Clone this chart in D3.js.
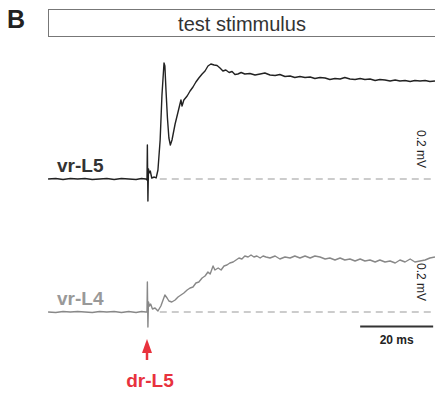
<!DOCTYPE html>
<html>
<head>
<meta charset="utf-8">
<script src="https://cdn.jsdelivr.net/npm/d3@7"></script>
<style>
  body { margin: 0; background: #fff; }
  svg { font-family: "Liberation Sans", Arial, sans-serif; }
</style>
</head>
<body>
<div id="fig"></div>
<script>
// recordings: [time after dr-L5 stimulus (ms), potential (mV)]
const vrL5 = [
  [-27.1,0],[-25,0.001],[-23,-0.001],[-21,0.001],[-19,0],[-17,0.001],[-15,-0.001],[-13,0],
  [-11,0.001],[-9,-0.001],[-7,0.001],[-5,0],[-3,-0.001],[-1.5,0.001],[-0.3,0],
  [0,-0.002],[0.1,0.068],[0.25,-0.044],[0.4,0.020],[0.6,0.012],[0.9,0.016],[1.3,0.002],[2.0,0.004],
  [2.5,0.002],[3.0,0.018],[3.6,0.078],[4.1,0.168],[4.66,0.232],[4.9,0.226],[5.2,0.178],[5.6,0.122],
  [6.0,0.082],[6.4,0.068],[6.85,0.078],[7.7,0.110],[8.5,0.134],[9.3,0.158],[9.6,0.146],[10.1,0.158],
  [11.0,0.166],[11.8,0.176],[12.6,0.184],[13.4,0.194],[14.2,0.202],[15.1,0.210],[15.9,0.216],[16.7,0.226],
  [17.5,0.230],[18.4,0.228],[19.2,0.227],[20.0,0.222],[20.8,0.216],[21.6,0.218],[22.5,0.213],[23.3,0.215],
  [24.1,0.209],[24.9,0.210],[25.8,0.213],[26.8,0.210],[28.2,0.211],[29.6,0.208],[31.0,0.210],[32.3,0.212],
  [33.7,0.208],[35.1,0.207],[36.4,0.209],[37.8,0.205],[39.2,0.206],[40.5,0.203],[41.9,0.205],[43.3,0.203],
  [44.7,0.204],[46.0,0.201],[47.4,0.203],[48.8,0.202],[50.1,0.199],[51.5,0.201],[52.9,0.200],[54.2,0.203],
  [55.6,0.200],[57.0,0.199],[58.4,0.201],[59.7,0.199],[61.1,0.200],[62.5,0.197],[63.8,0.199],[65.2,0.198],
  [66.6,0.196],[68.0,0.198],[69.3,0.196],[70.7,0.197],[72.1,0.195],[73.4,0.197],[74.8,0.196],[76.2,0.197],
  [77.5,0.195],[78.9,0.196]
];

const vrL4 = [
  [-27.1,0],[-25,-0.001],[-23,0.001],[-21,0],[-19,0.001],[-17,0],[-15,-0.001],[-13,0.001],
  [-11,0],[-9,0.001],[-7,-0.001],[-5,0.001],[-3,-0.001],[-1.5,0.001],[-0.3,0],
  [0,0],[0.1,0.060],[0.25,-0.030],[0.4,0.020],[0.7,0.012],[1.0,0.016],[1.5,0.006],[2.2,0.008],
  [3.0,0.002],[3.8,0.012],[4.4,0.024],[4.9,0.034],[5.5,0.028],[6.0,0.022],[6.8,0.020],[7.7,0.024],
  [8.5,0.030],[9.3,0.034],[10.1,0.038],[11.0,0.044],[11.8,0.048],[12.6,0.050],[13.4,0.058],[14.2,0.060],
  [15.1,0.068],[15.9,0.072],[16.7,0.080],[17.3,0.076],[18.1,0.092],[18.6,0.084],[19.5,0.088],[20.3,0.084],
  [21.1,0.092],[21.9,0.094],[22.7,0.098],[23.6,0.100],[24.4,0.104],[25.2,0.108],[26.0,0.106],[26.8,0.112],
  [27.7,0.110],[28.5,0.114],[29.3,0.110],[30.1,0.112],[31.0,0.108],[31.8,0.112],[32.6,0.110],[33.7,0.108],
  [35.1,0.112],[36.4,0.106],[37.8,0.110],[39.2,0.108],[40.5,0.112],[41.9,0.108],[43.3,0.112],[44.7,0.108],
  [46.0,0.112],[47.4,0.110],[48.8,0.106],[50.1,0.108],[51.5,0.104],[52.9,0.108],[54.2,0.104],[55.6,0.106],
  [57.0,0.102],[58.4,0.106],[59.7,0.102],[61.1,0.104],[62.5,0.100],[63.8,0.104],[65.2,0.100],[66.6,0.102],
  [68.0,0.098],[69.3,0.104],[70.7,0.100],[72.1,0.106],[73.4,0.100],[74.8,0.102],[76.2,0.104],[77.5,0.108],
  [78.9,0.110]
];

const timeBar = [58.4, 78.4];   // 20 ms scale bar
const voltBar = 0.2;            // mV
const dashStart = 3.5;          // ms, baseline reference line

const width = 435, height = 396;

const svg = d3.select('#fig').append('svg')
    .attr('width', width)
    .attr('height', height);

// shared time axis, one voltage scale per root
const x = d3.scaleLinear().domain([0, 20]).range([147, 220]);
const yL5 = d3.scaleLinear().domain([0, voltBar]).range([179, 79]);
const yL4 = d3.scaleLinear().domain([0, voltBar]).range([312, 212]);
const tEnd = d3.max(vrL5, d => d[0]);

// panel letter + stimulus box
svg.append('text')
    .attr('x', 7).attr('y', 28)
    .attr('font-size', 25).attr('font-weight', 'bold')
    .attr('fill', '#222')
    .text('B');

svg.append('rect')
    .attr('x', 48.5).attr('y', 9.5)
    .attr('width', 400).attr('height', 27)
    .attr('fill', 'none').attr('stroke', '#777').attr('stroke-width', 1);

svg.append('text')
    .attr('x', 242).attr('y', 31)
    .attr('text-anchor', 'middle')
    .attr('font-size', 20).attr('fill', '#333')
    .text('test stimmulus');

const traces = [
  {name: 'vr-L5', data: vrL5, y: yL5, color: '#222', label: '#333'},
  {name: 'vr-L4', data: vrL4, y: yL4, color: '#888', label: '#999'}
];

traces.forEach(tr => {
  // dashed baseline
  svg.append('line')
      .attr('x1', x(dashStart)).attr('x2', x(tEnd))
      .attr('y1', tr.y(0)).attr('y2', tr.y(0))
      .attr('stroke', '#999').attr('stroke-width', 1)
      .attr('stroke-dasharray', '7,5');

  const line = d3.line()
      .x(d => x(d[0]))
      .y(d => tr.y(d[1]));

  svg.append('path')
      .datum(tr.data)
      .attr('d', line)
      .attr('fill', 'none')
      .attr('stroke', tr.color)
      .attr('stroke-width', 1.4)
      .attr('stroke-linejoin', 'round');

  svg.append('text')
      .attr('x', 57).attr('y', tr.y(0) - 7)
      .attr('font-size', 19).attr('font-weight', 'bold')
      .attr('fill', tr.label)
      .text(tr.name);

  // rotated amplitude label
  const cy = tr.y(voltBar * 0.3);
  svg.append('text')
      .attr('transform', `translate(417,${cy}) rotate(90)`)
      .attr('text-anchor', 'middle')
      .attr('font-size', 12).attr('fill', '#222')
      .text(voltBar + ' mV');
});

// time scale bar
svg.append('line')
    .attr('x1', x(timeBar[0])).attr('x2', x(timeBar[1]))
    .attr('y1', 326.5).attr('y2', 326.5)
    .attr('stroke', '#333').attr('stroke-width', 2);

svg.append('text')
    .attr('x', (x(timeBar[0]) + x(timeBar[1])) / 2).attr('y', 344)
    .attr('text-anchor', 'middle')
    .attr('font-size', 12).attr('font-weight', 'bold').attr('fill', '#222')
    .text(Math.round(timeBar[1] - timeBar[0]) + ' ms');

// stimulus arrow
const red = '#e8323d';
const ax = x(0);
svg.append('line')
    .attr('x1', ax).attr('x2', ax)
    .attr('y1', 350).attr('y2', 360)
    .attr('stroke', red).attr('stroke-width', 2.5);
svg.append('path')
    .attr('d', `M${ax},339 L${ax - 5},353 L${ax + 5},353 Z`)
    .attr('fill', red);

svg.append('text')
    .attr('x', ax + 3).attr('y', 387)
    .attr('text-anchor', 'middle')
    .attr('font-size', 19).attr('font-weight', 'bold').attr('fill', red)
    .text('dr-L5');
</script>
</body>
</html>
